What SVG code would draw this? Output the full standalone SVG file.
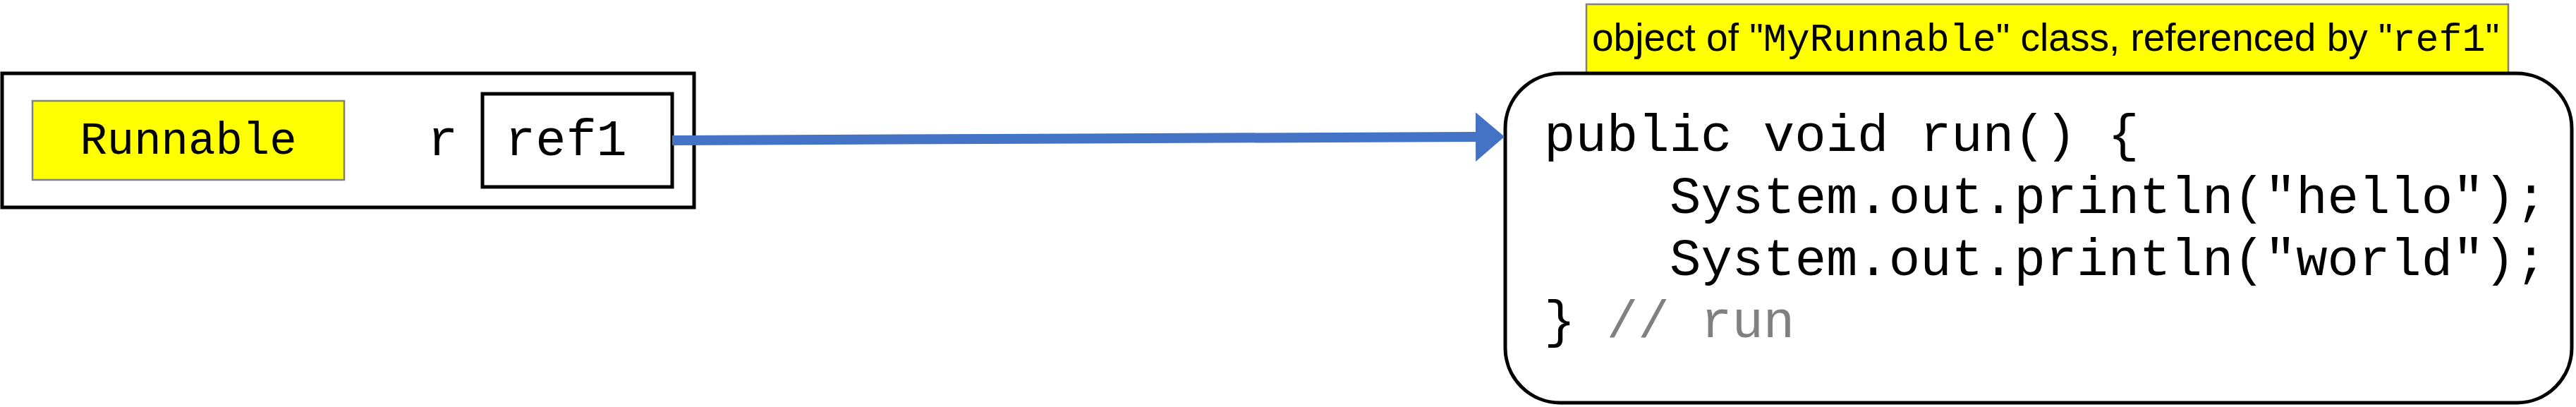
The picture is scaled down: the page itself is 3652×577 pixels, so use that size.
<svg xmlns="http://www.w3.org/2000/svg" width="3652" height="577" viewBox="0 0 3652 577">
  <style>
    .mono { font-family: "Liberation Mono", "Courier New", monospace; fill: #000; }
    .sans { font-family: "Liberation Sans", Arial, sans-serif; fill: #000; }
    .box { fill: #fff; stroke: #000; stroke-width: 5; }
    .tag { fill: #ffff00; stroke: #808080; stroke-width: 2.5; }
    .comment { fill: #808080; }
    .conn { fill: none; stroke: #4472c4; stroke-width: 14; }
  </style>
  <defs>
    <marker id="arrowhead" markerUnits="userSpaceOnUse" markerWidth="42" markerHeight="72" refX="0" refY="35" orient="auto" viewBox="0 0 42 70">
      <path d="M0,0 L41,35 L0,70 Z" fill="#4472c4"/>
    </marker>
  </defs>

  <g id="variable-r">
    <rect class="box" x="3" y="104" width="981" height="190"/>
    <rect class="tag" x="46" y="143" width="442" height="112"/>
    <text class="mono" x="267" y="218" font-size="64" text-anchor="middle">Runnable</text>
    <text class="mono" x="606" y="220" font-size="72">r</text>
    <rect class="box" x="684" y="133" width="269" height="132"/>
    <text class="mono" x="716" y="220" font-size="72">ref1</text>
  </g>

  <g id="object-ref1">
    <rect class="tag" x="2249" y="6" width="1307" height="98"/>
    <text class="sans" x="2257" y="72" font-size="55">object of "<tspan class="mono">MyRunnable</tspan>" class, referenced by "<tspan class="mono">ref1</tspan>"</text>
    <rect class="box" x="2134" y="104" width="1512" height="467" rx="78" ry="78"/>
    <text class="mono" x="2189" y="214" font-size="74">public void run() {</text>
    <text class="mono" x="2367" y="302" font-size="74">System.out.println("hello");</text>
    <text class="mono" x="2367" y="390" font-size="74">System.out.println("world");</text>
    <text class="mono" x="2189" y="478" font-size="74">} <tspan class="comment">// run</tspan></text>
  </g>

  <g id="connectors">
    <path class="conn" d="M953,199 L2092,194" marker-end="url(#arrowhead)"/>
  </g>
</svg>
